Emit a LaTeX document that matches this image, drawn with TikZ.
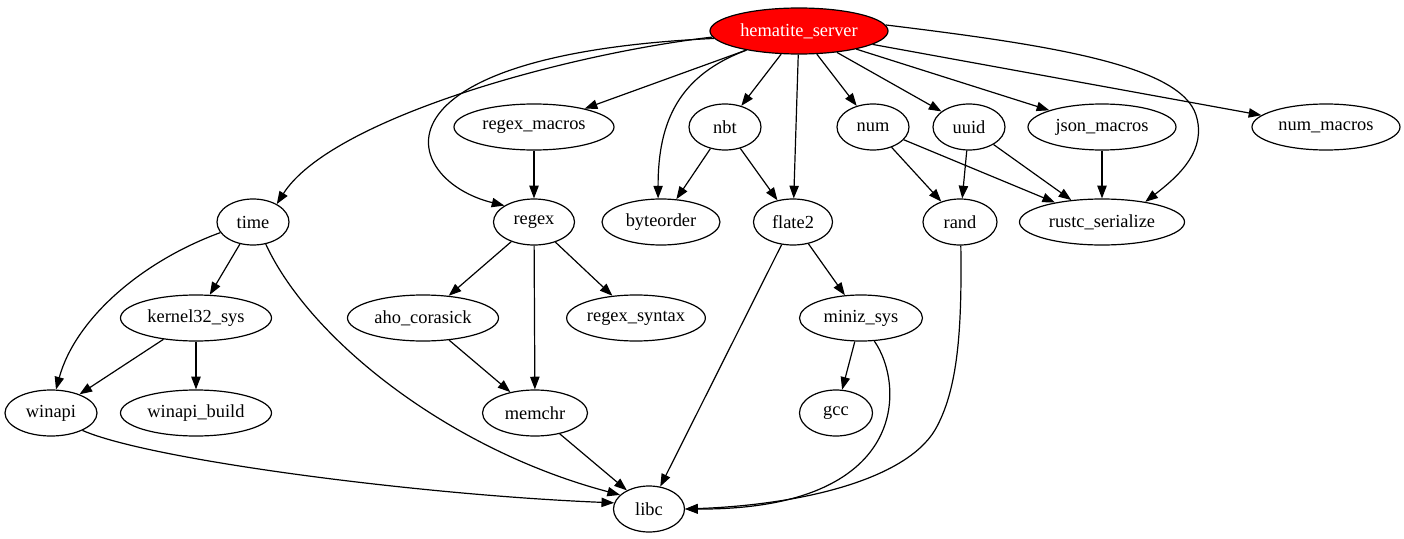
\documentclass[tikz,border=0pt]{standalone}
\usepackage{fontspec}
\setmainfont{Liberation Serif}
\usetikzlibrary{shapes.geometric,arrows.meta}
\begin{document}
\begin{tikzpicture}[x=0.75pt,y=-0.75pt,
  dep/.style={ellipse,draw,line width=0.9pt,inner sep=0pt,minimum height=34.5pt,
    font=\fontsize{13.8}{16}\selectfont},
  w/.style={minimum width=#1*0.75pt},
  dedge/.style={line width=0.9pt,-{Triangle[length=9.5pt,width=7pt]}},
]
\useasboundingbox (0,0) rectangle (1404,539);
% rank 0
\node[dep,w=178,fill=red,text=white] (hs) at (799,31) {hematite\_server};
% rank 1
\node[dep,w=160] (rm) at (534,127) {regex\_macros};
\node[dep,w=72] (nbt) at (725,127) {nbt};
\node[dep,w=72] (num) at (873,127) {num};
\node[dep,w=72] (uuid) at (969,127) {uuid};
\node[dep,w=148] (jm) at (1102,127) {json\_macros};
\node[dep,w=148] (nm) at (1326,127) {num\_macros};
% rank 2
\node[dep,w=72] (time) at (253,222) {time};
\node[dep,w=81] (regex) at (534,222) {regex};
\node[dep,w=118] (bo) at (661,222) {byteorder};
\node[dep,w=79] (fl) at (793,222) {flate2};
\node[dep,w=74] (rand) at (960,222) {rand};
\node[dep,w=165] (rs) at (1102,222) {rustc\_serialize};
% rank 3
\node[dep,w=151] (k32) at (196,318) {kernel32\_sys};
\node[dep,w=151] (aho) at (423,318) {aho\_corasick};
\node[dep,w=128] (rsyn) at (636,318) {regex\_syntax};
\node[dep,w=123] (mz) at (861,318) {miniz\_sys};
% rank 4
\node[dep,w=92] (winapi) at (51,413) {winapi};
\node[dep,w=151] (wb) at (196,413) {winapi\_build};
\node[dep,w=105] (memchr) at (535,413) {memchr};
\node[dep,w=73] (gcc) at (836,413) {gcc};
% rank 5
\node[dep,w=71] (libc) at (649,509) {libc};

% edges from hematite_server
\draw[dedge] (hs.184) .. controls (560,55) and (330,120) .. (time.37);
\draw[dedge] (hs.185) .. controls (360,55) and (400,180) .. (regex.151);
\draw[dedge] (hs) -- (rm);
\draw[dedge] (hs.200) .. controls (680,75) and (658,120) .. (bo.97);
\draw[dedge] (hs) -- (nbt);
\draw[dedge] (hs) -- (fl);
\draw[dedge] (hs) -- (num);
\draw[dedge] (hs) -- (uuid);
\draw[dedge] (hs) -- (jm);
\draw[dedge] (hs) -- (nm);
\draw[dedge] (hs.4) .. controls (1050,45) and (1180,65) .. (1196,115)
  .. controls (1207,150) and (1180,175) .. (rs.25);

% rank 1 edges
\draw[dedge] (rm) -- (regex);
\draw[dedge] (nbt) -- (bo);
\draw[dedge] (nbt) -- (fl);
\draw[dedge] (num) -- (rand);
\draw[dedge] (num) -- (rs);
\draw[dedge] (uuid) -- (rand);
\draw[dedge] (uuid) -- (rs);
\draw[dedge] (jm) -- (rs);

% rank 2 edges
\draw[dedge] (time.198) .. controls (140,262) and (75,320) .. (winapi.78);
\draw[dedge] (time) -- (k32);
\draw[dedge] (time.-60) .. controls (310,340) and (450,450) .. (libc.154);
\draw[dedge] (regex) -- (aho);
\draw[dedge] (regex) -- (memchr);
\draw[dedge] (regex) -- (rsyn);
\draw[dedge] (fl) -- (libc);
\draw[dedge] (fl) -- (mz);
\draw[dedge] (rand.-88) .. controls (962,330) and (958,390) .. (935,430)
  .. controls (905,480) and (800,505) .. (libc.0);

% rank 3 edges
\draw[dedge] (k32) -- (winapi);
\draw[dedge] (k32) -- (wb);
\draw[dedge] (aho) -- (memchr);
\draw[dedge] (mz) -- (gcc);
\draw[dedge] (mz.-60) .. controls (905,385) and (910,510) .. (libc.0);

% rank 4 edges
\draw[dedge] (winapi.-29) .. controls (150,460) and (420,495) .. (libc.170);
\draw[dedge] (memchr) -- (libc);
\end{tikzpicture}
\end{document}
